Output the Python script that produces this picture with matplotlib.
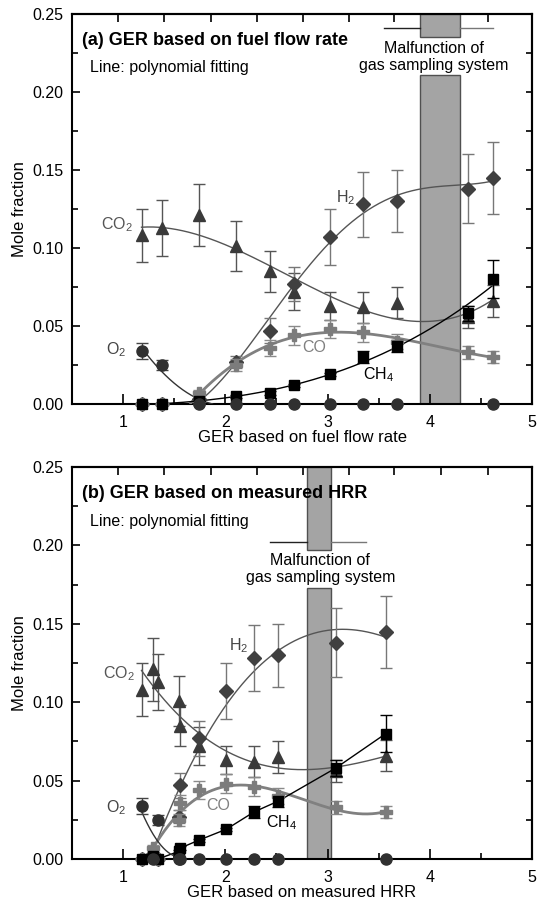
import numpy as np
import matplotlib
matplotlib.use("Agg")
import matplotlib.pyplot as plt

plt.rcParams['font.family'] = ['Liberation Sans', 'DejaVu Sans']
plt.rcParams['mathtext.fontset'] = 'custom'
plt.rcParams['mathtext.rm'] = 'Liberation Sans'

# GER values (x) for the two definitions
x_fuel = [1.18, 1.38, 1.74, 2.10, 2.44, 2.67, 3.02, 3.35, 3.68, 4.37, 4.62]
x_hrr = [1.18, 1.34, 1.29, 1.55, 1.56, 1.74, 2.01, 2.28, 2.52, 3.08, 3.57]

# mole fractions
co2 = [0.108, 0.113, 0.121, 0.101, 0.085, 0.072, 0.063, 0.062, 0.065, 0.056, 0.066]
h2 = [0.0, 0.0, 0.003, 0.027, 0.047, 0.077, 0.107, 0.128, 0.130, 0.138, 0.145]
co = [0.0, 0.0, 0.007, 0.025, 0.036, 0.044, 0.048, 0.046, 0.040, 0.033, 0.030]
ch4 = [0.0, 0.0, 0.002, 0.005, 0.007, 0.012, 0.019, 0.030, 0.037, 0.058, 0.080]
o2 = [0.034, 0.025, 0.0, 0.0, 0.0, 0.0, 0.0, 0.0, 0.0, np.nan, 0.0]

# error bars
co2_err = [0.017, 0.018, 0.020, 0.016, 0.013, 0.012, 0.009, 0.010, 0.010, 0.007, 0.010]
h2_err = [0.0, 0.0, 0.0, 0.004, 0.008, 0.011, 0.018, 0.021, 0.020, 0.022, 0.023]
co_err = [0.0, 0.0, 0.002, 0.004, 0.005, 0.006, 0.006, 0.006, 0.005, 0.004, 0.004]
ch4_err = [0.0, 0.0, 0.0, 0.001, 0.001, 0.001, 0.001, 0.004, 0.004, 0.005, 0.012]
o2_err = [0.005, 0.003, 0.0, 0.0, 0.0, 0.0, 0.0, 0.0, 0.0, 0.0, 0.0]

top_ticks = [0.95, 1.40, 1.855, 2.31, 2.76, 3.21, 3.65, 4.11, 4.57]

c_co2 = '#3a3a3a'
c_h2 = '#404040'
c_co = '#7c7c7c'
c_o2 = '#303030'


def fit(ax, x, y, deg, x0, x1, start=0, stop=None, **kw):
    x = np.asarray(x)[start:stop]
    y = np.asarray(y)[start:stop]
    ok = ~np.isnan(y)
    p = np.polyfit(x[ok], y[ok], deg)
    xx = np.linspace(x0, x1, 300)
    yy = np.polyval(p, xx)
    yy[yy < 0] = np.nan
    ax.plot(xx, yy, zorder=3, **kw)


def points(ax, x, y, err, marker, color, ecolor, ms, z):
    ax.errorbar(x, y, yerr=err, fmt=marker, color=color, ecolor=ecolor, ms=ms,
                elinewidth=1, capsize=4, capthick=1, zorder=z, clip_on=False)


def panel(ax, x, title, xlabel, band, text_xy, lines_y, sides):
    ax.set_xlim(0.5, 5)
    ax.set_ylim(0, 0.25)

    # malfunction band, broken by the text
    ax.axvspan(band[0], band[1], ymin=0, ymax=sides[0], facecolor='#a4a4a4',
               edgecolor='#505050', lw=1, zorder=1)
    ax.axvspan(band[0], band[1], ymin=sides[1], ymax=1, facecolor='#a4a4a4',
               edgecolor='#505050', lw=1, zorder=1)
    ax.plot([lines_y[0], band[0]], [lines_y[2]] * 2, color='#222222', lw=1)
    ax.plot([band[1], lines_y[1]], [lines_y[2]] * 2, color='#777777', lw=1)
    ax.text(text_xy[0], text_xy[1], 'Malfunction of\ngas sampling system',
            ha='center', va='center', fontsize=11.5, linespacing=1.15)

    points(ax, x, co2, co2_err, '^', c_co2, '#555555', 8.5, 5)
    points(ax, x, h2, h2_err, 'D', c_h2, '#777777', 7, 5)
    points(ax, x, co, co_err, 'P', c_co, '#8a8a8a', 9, 6)
    points(ax, x, ch4, ch4_err, 's', 'black', 'black', 7, 6)
    points(ax, x, o2, o2_err, 'o', c_o2, '#444444', 8, 7)

    ax.text(0.022, 0.933, title, transform=ax.transAxes, fontsize=13,
            fontweight='bold', va='center')
    ax.text(0.04, 0.862, 'Line: polynomial fitting', transform=ax.transAxes,
            fontsize=11.5, va='center')

    ax.set_xlabel(xlabel, fontsize=12, labelpad=0)
    ax.set_ylabel('Mole fraction', fontsize=12, labelpad=4)
    ax.set_xticks([1, 2, 3, 4, 5])
    ax.set_xticks(np.arange(0.5, 5.01, 0.5), minor=True)
    ax.set_yticks(np.arange(0, 0.251, 0.05))
    ax.set_yticks(np.arange(0, 0.251, 0.025), minor=True)
    ax.set_yticklabels(['%.2f' % v for v in np.arange(0, 0.251, 0.05)])
    ax.tick_params(axis='x', which='major', direction='in', length=7, width=1.2,
                   pad=8, labelsize=11.5)
    ax.tick_params(axis='x', which='minor', direction='in', length=4, width=1.2)
    ax.tick_params(axis='y', which='major', direction='in', length=6, width=1.2,
                   pad=6, labelsize=11.5)
    ax.tick_params(axis='y', which='minor', direction='in', length=4, width=1.2)
    for s in ax.spines.values():
        s.set_linewidth(1.5)

    sx = ax.secondary_xaxis('top')
    sx.set_xticks(top_ticks)
    sx.tick_params(direction='in', length=6, width=1.2, labeltop=False)
    sy = ax.secondary_yaxis('right')
    sy.set_yticks(np.arange(0, 0.251, 0.025))
    sy.tick_params(direction='in', length=4, width=1.2, labelright=False)
    for s in list(sx.spines.values()) + list(sy.spines.values()):
        s.set_linewidth(1.5)


def labels(ax, pos):
    names = [r'$\mathregular{CO_2}$', r'$\mathregular{O_2}$', r'$\mathregular{H_2}$',
             'CO', r'$\mathregular{CH_4}$']
    cols = ['#555555', '#444444', '#444444', '#808080', 'black']
    for n, c, (px, py) in zip(names, cols, pos):
        ax.text(px, py, n, color=c, fontsize=11.5, ha='center', va='center')


fig = plt.figure(figsize=(5.39, 9.07), dpi=100)
ax1 = fig.add_axes([0.1336, 0.5546, 0.8534, 0.430])
ax2 = fig.add_axes([0.1336, 0.0529, 0.8534, 0.4322])

# (a) fuel flow rate
panel(ax1, x_fuel, '(a) GER based on fuel flow rate', 'GER based on fuel flow rate',
      (3.9, 4.3), (4.04, 0.2222), (3.55, 4.62, 0.241), (0.8436, 0.941))
fit(ax1, x_fuel, co2, 3, 1.18, 4.62, color='#555555', lw=1)
fit(ax1, x_fuel, h2, 4, 1.45, 4.62, color='#555555', lw=1)
fit(ax1, x_fuel, co, 3, 1.45, 4.62, start=2, color='#808080', lw=2)
fit(ax1, x_fuel, ch4, 3, 1.45, 4.62, color='black', lw=1)
fit(ax1, x_fuel, o2, 2, 1.18, 1.95, stop=4, color='#333333', lw=1)
labels(ax1, [(0.94, 0.115), (0.93, 0.035), (3.18, 0.132), (2.87, 0.036), (3.5, 0.0186)])

# (b) measured HRR
panel(ax2, x_hrr, '(b) GER based on measured HRR', 'GER based on measured HRR',
      (2.8, 3.03), (2.93, 0.185), (2.44, 3.38, 0.202), (0.691, 0.788))
fit(ax2, x_hrr, co2, 3, 1.18, 3.57, color='#555555', lw=1)
fit(ax2, x_hrr, h2, 3, 1.25, 3.57, color='#555555', lw=1)
fit(ax2, x_hrr, co, 3, 1.25, 3.57, color='#808080', lw=2)
order = np.argsort(x_hrr)[2:]
ax2.plot(np.array(x_hrr)[order], np.array(ch4)[order], color='black', lw=1, zorder=3)
fit(ax2, x_hrr, o2, 2, 1.18, 1.5, stop=4, color='#333333', lw=1)
labels(ax2, [(0.96, 0.118), (0.93, 0.033), (2.13, 0.136), (1.93, 0.034), (2.55, 0.023)])

fig.savefig('out.png', dpi=100)
